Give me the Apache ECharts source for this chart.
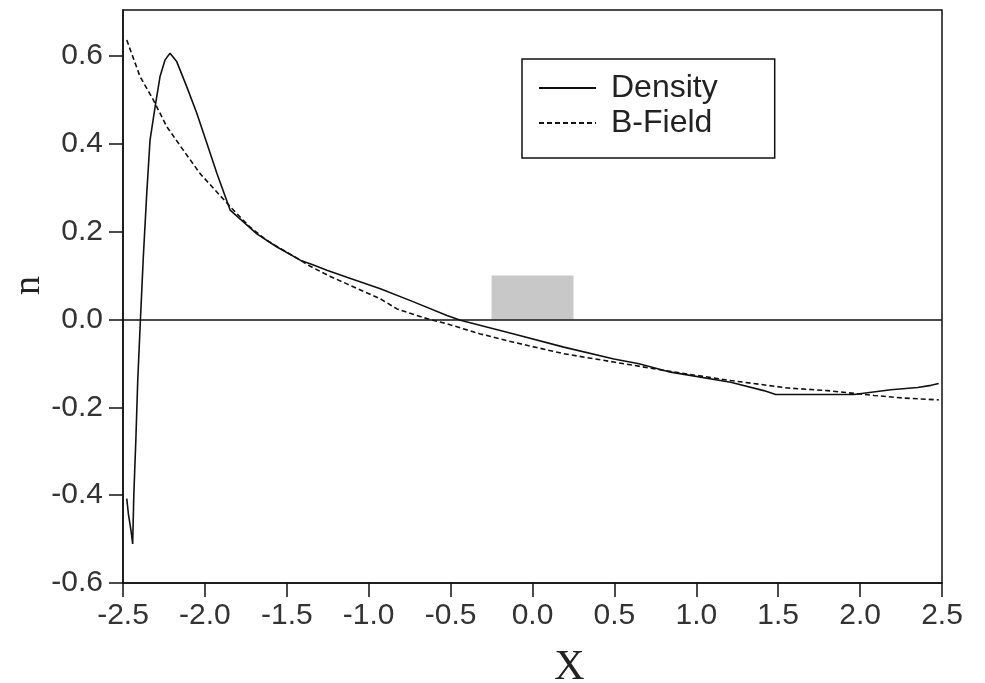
<!DOCTYPE html>
<html>
<head>
<meta charset="utf-8">
<script src="https://cdn.jsdelivr.net/npm/echarts@6/dist/echarts.min.js"></script>
<style>
html,body{margin:0;padding:0;background:#fff;}
#chart{width:985px;height:683px;}
</style>
</head>
<body>
<div id="chart"></div>
<script>
// Data
const densityX = [-2.477,-2.467,-2.451,-2.441,-2.434,-2.421,-2.410,-2.396,-2.376,-2.355,-2.335,-2.304,-2.274,-2.243,-2.213,-2.172,-2.111,-2.050,-1.988,-1.927,-1.846,-1.765,-1.683,-1.560,-1.418,-1.337,-1.255,-1.133,-0.929,-0.726,-0.522,-0.440,-0.114,0.191,0.497,0.650,0.844,1.210,1.412,1.485,1.962,2.188,2.351,2.433,2.480];
const densityY = [-0.408,-0.443,-0.481,-0.511,-0.400,-0.268,-0.139,-0.020,0.142,0.287,0.408,0.484,0.553,0.591,0.606,0.587,0.530,0.470,0.401,0.333,0.249,0.222,0.195,0.165,0.135,0.124,0.112,0.096,0.070,0.040,0.009,-0.002,-0.033,-0.063,-0.090,-0.101,-0.120,-0.143,-0.162,-0.171,-0.171,-0.160,-0.155,-0.150,-0.146];
const bfieldX = [-2.477,-2.396,-2.315,-2.233,-2.131,-2.029,-1.927,-1.826,-1.724,-1.622,-1.418,-1.357,-1.235,-1.133,-0.929,-0.827,-0.664,-0.522,-0.318,-0.114,0.191,0.497,0.850,1.210,1.557,1.801,2.085,2.268,2.480];
const bfieldY = [0.636,0.553,0.500,0.439,0.385,0.332,0.290,0.249,0.210,0.180,0.135,0.121,0.098,0.081,0.047,0.024,0.004,-0.010,-0.033,-0.052,-0.078,-0.097,-0.119,-0.139,-0.156,-0.162,-0.173,-0.179,-0.183];
const xTicks = [-2.5,-2.0,-1.5,-1.0,-0.5,0.0,0.5,1.0,1.5,2.0,2.5];
const yTicks = [-0.6,-0.4,-0.2,0.0,0.2,0.4,0.6];
const shadedBox = {x0:-0.25, x1:0.25, y0:0.0, y1:0.1};
const seriesNames = ['Density','B-Field'];

const pair = (xs, ys) => xs.map((x, i) => [x, ys[i]]);

const chart = echarts.init(document.getElementById('chart'), null, {renderer:'canvas'});
chart.setOption({
  animation: false,
  backgroundColor: '#ffffff',
  grid: {left:123, right:43, top:10, bottom:100, outerBoundsMode:'none', containLabel:false,
    show:true, borderColor:'#111', borderWidth:1.5, backgroundColor:'transparent'},
  legend: {
    orient:'vertical', left:522, top:59,
    padding:[13, 57, 19, 16], itemGap:3,
    itemWidth:57, itemHeight:16,
    borderColor:'#111', borderWidth:1.5, backgroundColor:'#fff',
    data: seriesNames,
    itemStyle:{opacity:0},
    textStyle:{fontFamily:'Liberation Sans, Arial, sans-serif', fontSize:32, color:'#222', lineHeight:32, padding:[0,0,0,10]}
  },
  xAxis: {
    type:'value', min:-2.5, max:2.5, interval:0.5,
    name:'X', nameLocation:'middle', nameGap:64, nameMoveOverlap:false,
    nameTextStyle:{fontFamily:'Liberation Serif, Times New Roman, serif', fontSize:42, color:'#222', padding:[0,0,0,74]},
    axisLine:{show:true, onZero:false, lineStyle:{color:'#111', width:1.5}},
    axisTick:{show:true, inside:false, length:14, customValues:xTicks, lineStyle:{color:'#111', width:1.5}},
    axisLabel:{margin:18, customValues:xTicks, fontFamily:'Liberation Sans Narrow, Arial Narrow, sans-serif', fontSize:30, color:'#333',
      formatter: v => v.toFixed(1)},
    splitLine:{show:false}
  },
  yAxis: {
    type:'value', min:-0.6, max:0.7045,
    name:'n', nameLocation:'middle', nameGap:75, nameRotate:90, nameMoveOverlap:false,
    nameTextStyle:{fontFamily:'Liberation Serif, Times New Roman, serif', fontSize:38, color:'#222', padding:[0,0,0,22]},
    axisLine:{show:true, onZero:false, lineStyle:{color:'#111', width:1.5}},
    axisTick:{show:true, inside:false, length:14, customValues:yTicks, lineStyle:{color:'#111', width:1.5}},
    axisLabel:{margin:20, customValues:yTicks, fontFamily:'Liberation Sans, Arial, sans-serif', fontSize:30, color:'#333',
      formatter: v => v.toFixed(1)},
    splitLine:{show:false}
  },
  series: [
    {
      name: seriesNames[0], type:'line', data: pair(densityX, densityY),
      symbol:'none', smooth:false, z:3,
      lineStyle:{color:'#111', width:1.6, type:'solid'},
      itemStyle:{color:'#111'},
      markArea:{silent:true, itemStyle:{color:'#c8c8c8', opacity:1},
        data:[[{coord:[shadedBox.x0, shadedBox.y0]},{coord:[shadedBox.x1, shadedBox.y1]}]]},
      markLine:{silent:true, symbol:['none','none'], label:{show:false},
        lineStyle:{color:'#111', width:1.5, type:'solid'},
        data:[{yAxis:0}]}
    },
    {
      name: seriesNames[1], type:'line', data: pair(bfieldX, bfieldY),
      symbol:'none', smooth:false, z:3,
      lineStyle:{color:'#111', width:1.6, type:[5,3]},
      itemStyle:{color:'#111'}
    }
  ]
});
</script>
</body>
</html>
